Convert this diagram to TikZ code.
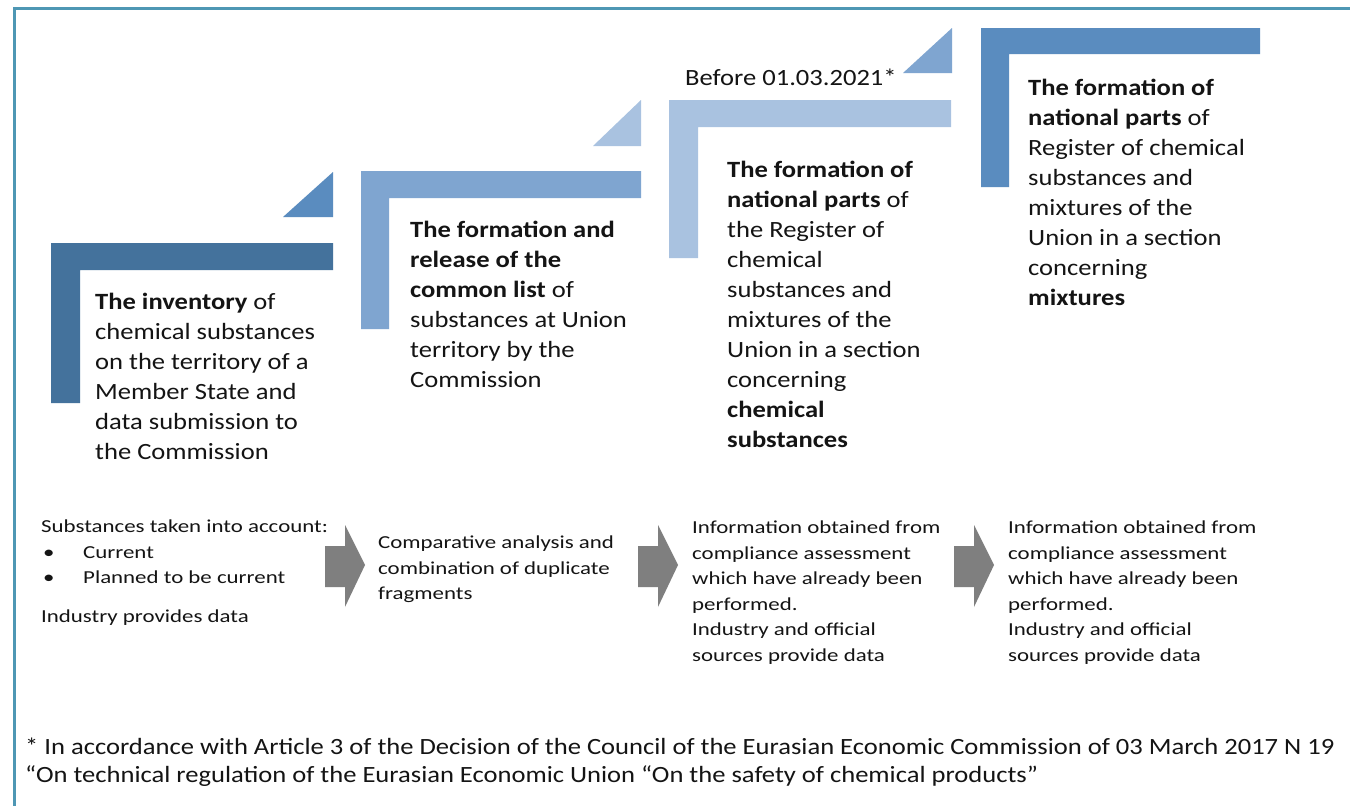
\documentclass[tikz,border=0pt]{standalone}
\usepackage{fontspec}
\setmainfont{Carlito}[FakeStretch=1.14]
\newfontfamily\lowfont{Carlito}[FakeStretch=1.25]
\definecolor{cA}{HTML}{44729C}
\definecolor{cB}{HTML}{7FA5D0}
\definecolor{cC}{HTML}{A9C2E0}
\definecolor{cD}{HTML}{5A8CBF}
\definecolor{frame}{HTML}{4E97B4}
\definecolor{arr}{HTML}{7F7F7F}
\definecolor{txt}{HTML}{141414}
\tikzset{
  main/.style={anchor=base west, inner sep=0pt, text=txt, font=\fontsize{23.3}{30}\selectfont},
  low/.style={anchor=base west, inner sep=0pt, text=txt, font=\lowfont\fontsize{18.3}{25.6}\selectfont},
  foot/.style={anchor=base west, inner sep=0pt, text=txt, font=\fontsize{23.3}{28}\selectfont},
}
\begin{document}
\begin{tikzpicture}[x=1pt,y=-1pt]
\useasboundingbox (0,0) rectangle (1350,806);
\fill[white] (0,0) rectangle (1350,806);
% frame
\draw[line width=3pt, frame] (14,806) -- (14,8.5) -- (1350,8.5);
% L shapes and triangles
\fill[cA] (51,243) -- (333,243) -- (333,270) -- (80,270) -- (80,403) -- (51,403) -- cycle;
\fill[cD] (283,217) -- (333,172) -- (333,217) -- cycle;
\fill[cB] (361,171) -- (641,171) -- (641,198) -- (389,198) -- (389,329) -- (361,329) -- cycle;
\fill[cC] (593,146) -- (641,100) -- (641,146) -- cycle;
\fill[cC] (669,100) -- (951,100) -- (951,127) -- (698,127) -- (698,258) -- (669,258) -- cycle;
\fill[cB] (903,73) -- (952,28) -- (952,73) -- cycle;
\fill[cD] (981,28) -- (1260,28) -- (1260,54) -- (1009,54) -- (1009,187) -- (981,187) -- cycle;
% main texts
\node[main] (t1) at (95,309) {\parbox[t]{400pt}{\textbf{The inventory} of\\chemical substances\\on the territory of a\\Member State and\\data submission to\\the Commission}};
\node[main] (t2) at (410,237) {\parbox[t]{400pt}{\textbf{The formation and}\\\textbf{release of the}\\\textbf{common list} of\\substances at Union\\territory by the\\Commission}};
\node[main] (t3) at (727,177) {\parbox[t]{400pt}{\textbf{The formation of}\\\textbf{national parts} of\\the Register of\\chemical\\substances and\\mixtures of the\\Union in a section\\concerning\\\textbf{chemical}\\\textbf{substances}}};
\node[main] (t4) at (1028,95) {\parbox[t]{400pt}{\textbf{The formation of}\\\textbf{national parts} of\\Register of chemical\\substances and\\mixtures of the\\Union in a section\\concerning\\\textbf{mixtures}}};
\node[main] (before) at (685,85) {Before 01.03.2021*};
% lower texts
\node[low] (l1) at (41,532.5) {\parbox[t]{400pt}{Substances taken into account:\\\makebox[42pt][l]{\hspace{2pt}•}Current\\\makebox[42pt][l]{\hspace{2pt}•}Planned to be current\\[13pt]Industry provides data}};
\node[low] (l2) at (378,548.5) {\parbox[t]{400pt}{Comparative analysis and\\combination of duplicate\\fragments}};
\node[low] (l3) at (692,533.5) {\parbox[t]{400pt}{Information obtained from\\compliance assessment\\which have already been\\performed.\\Industry and official\\sources provide data}};
\node[low] (l4) at (1008,533.5) {\parbox[t]{400pt}{Information obtained from\\compliance assessment\\which have already been\\performed.\\Industry and official\\sources provide data}};
% arrows
\foreach \x in {325,638,954}{
  \fill[arr] (\x,546) -- (\x+20,546) -- (\x+20,525) -- (\x+40,565) -- (\x+20,607) -- (\x+20,587) -- (\x,587) -- cycle;
}
% footnote
\node[foot] (f) at (25,754) {\parbox[t]{1400pt}{* In accordance with Article 3 of the Decision of the Council of the Eurasian Economic Commission of 03 March 2017 N 19\\“On technical regulation of the Eurasian Economic Union “On the safety of chemical products”}};
\end{tikzpicture}
\end{document}
